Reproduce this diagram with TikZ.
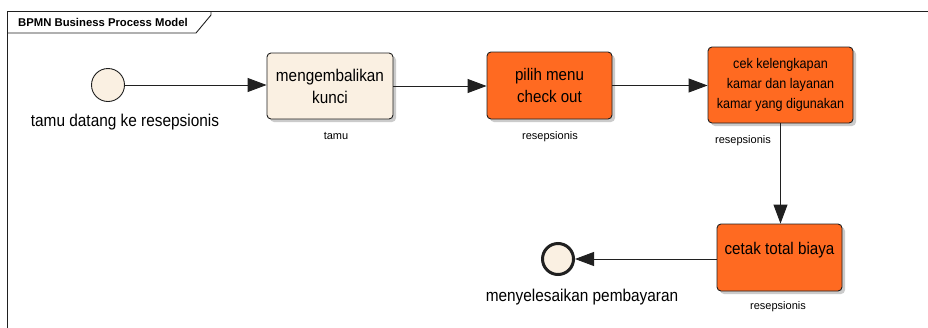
\documentclass[tikz,border=0pt]{standalone}
\usepackage{fontspec}
\setmainfont{Liberation Sans}
\newfontfamily\narrowf[FakeStretch=0.9]{Liberation Sans}
\usetikzlibrary{arrows.meta,shadows}
\definecolor{cream}{HTML}{FAF0E2}
\definecolor{orng}{HTML}{FF6A21}
\definecolor{edgec}{HTML}{202020}
\begin{document}
\begin{tikzpicture}[x=1pt,y=-1pt,
  task/.style={draw=edgec, line width=0.9pt, rounded corners=4pt, align=center, inner sep=0pt,
    font=\narrowf\fontsize{17}{22}\selectfont,
    drop shadow={shadow xshift=3pt, shadow yshift=-3pt, fill=black!40, opacity=0.5}},
  evt/.style={circle, draw=edgec, fill=cream, inner sep=0pt},
  lbl/.style={inner sep=0pt, font=\narrowf\fontsize{17.1}{19}\selectfont},
  lane/.style={inner sep=0pt, font=\fontsize{11}{13}\selectfont},
  flow/.style={line width=0.9pt, edgec, -{Triangle[length=19pt,width=14pt]}}]
\useasboundingbox (0,0) rectangle (928,327);
\fill[white] (0,0) rectangle (928,327);
\begin{scope}
\clip (0,0) rectangle (928,327);
\draw[line width=0.9pt, edgec] (7,11) rectangle (945,345);
\draw[line width=0.9pt, edgec] (7,33) -- (196,33) -- (211,15) -- (211,11);
\end{scope}
\node[inner sep=0pt, font=\bfseries\fontsize{11.3}{13}\selectfont] (title) at (103,22.5) {BPMN Business Process Model};

\node[evt, line width=0.9pt, minimum size=33pt] (start) at (108,85) {};
\node[lbl] (startl) at (125,122) {tamu datang ke resepsionis};

\node[task, fill=cream, minimum width=126pt, minimum height=66pt] (t1) at (330,86) {mengembalikan\\kunci};
\node[lane] (l1) at (336,136) {tamu};

\node[task, fill=orng, minimum width=125pt, minimum height=67pt, font=\narrowf\fontsize{16.8}{22}\selectfont] (t2) at (549.5,85.5) {pilih menu\\check out};
\node[lane] (l2) at (550,137) {resepsionis};

\node[task, fill=orng, minimum width=145pt, minimum height=76pt, font=\narrowf\fontsize{14}{20}\selectfont] (t3) at (780.5,85) {cek kelengkapan\\kamar dan layanan\\kamar yang digunakan};
\node[lane] (l3) at (743,141) {resepsionis};

\node[task, fill=orng, minimum width=125pt, minimum height=67pt, font=\narrowf\fontsize{16.9}{19}\selectfont] (t4) at (779.5,257.5) {cetak total biaya\\~};
\node[lane] (l4) at (778,307) {resepsionis};

\node[evt, line width=3pt, minimum size=31pt] (end) at (558,259) {};
\node[lbl] (endl) at (582,297) {menyelesaikan pembayaran};

\draw[flow] (start.east) -- (start.east -| t1.west);
\draw[flow] (t1.east) -- (t1.east -| t2.west);
\draw[flow] (t2.east) -- (t2.east -| t3.west);
\draw[flow] (t3.south) -- (t3.south |- t4.north);
\draw[flow] (t4.west |- end.east) -- (end.east);
\end{tikzpicture}
\end{document}
